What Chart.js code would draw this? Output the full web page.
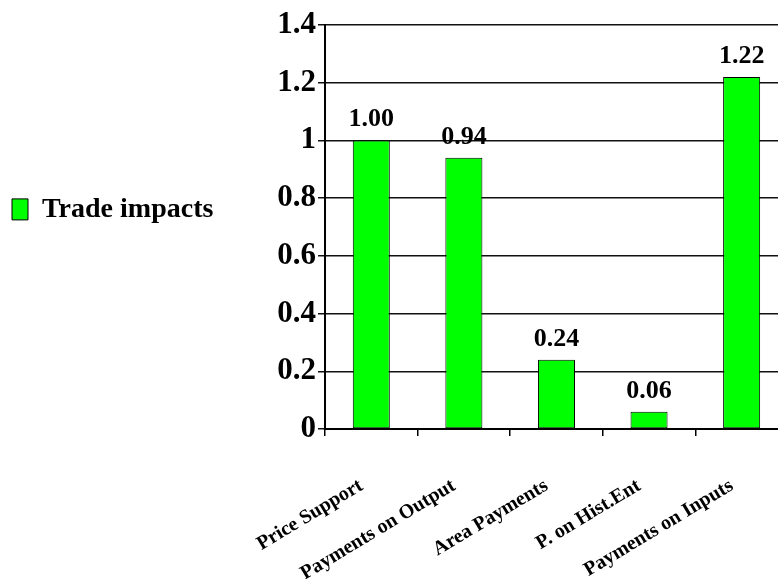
<!DOCTYPE html>
<html><head><meta charset="utf-8">
<script src="https://cdn.jsdelivr.net/npm/chart.js@4/dist/chart.umd.min.js"></script>
<style>
html,body{margin:0;padding:0;background:#fff;overflow:hidden;width:778px;height:579px;}
#wrap{position:relative;width:792px;height:579px;}
</style></head>
<body><div id="wrap"><canvas id="c"></canvas></div>
<script>
const categories = ["Price Support", "Payments on Output", "Area Payments", "P. on Hist.Ent", "Payments on Inputs"];
const tradeImpacts = [1.00, 0.94, 0.24, 0.06, 1.22];
const seriesName = "Trade impacts";
const yTickLabels = ["0", "0.2", "0.4", "0.6", "0.8", "1", "1.2", "1.4"];

const FONT = '"Liberation Serif", "Times New Roman", serif';

const valueLabels = {
  id: 'valueLabels',
  afterDatasetsDraw(chart) {
    const ctx = chart.ctx;
    const meta = chart.getDatasetMeta(0);
    ctx.save();
    ctx.font = 'bold 26px ' + FONT;
    ctx.fillStyle = '#000';
    ctx.textAlign = 'center';
    ctx.textBaseline = 'alphabetic';
    meta.data.forEach((bar, i) => {
      ctx.fillText(tradeImpacts[i].toFixed(2), bar.x, bar.y - 14);
    });
    ctx.restore();
  }
};

// widen the legend's clip box after layout so the full label is visible
const legendRoom = {
  id: 'legendRoom',
  afterLayout(chart) {
    const lg = chart.legend;
    if (lg) { lg.right = lg.left + 260; lg.width = 260; }
  }
};

new Chart(document.getElementById('c'), {
  type: 'bar',
  data: {
    labels: categories,
    datasets: [{
      label: seriesName,
      data: tradeImpacts,
      backgroundColor: '#00ff00',
      borderColor: '#000',
      borderWidth: 1,
      borderSkipped: false,
      categoryPercentage: 0.8,
      barPercentage: 0.5
    }]
  },
  options: {
    responsive: true,
    maintainAspectRatio: false,
    animation: false,
    layout: { padding: { top: 25, left: 0, right: 0, bottom: 0 } },
    plugins: {
      tooltip: { enabled: false },
      legend: {
        position: 'left',
        fullSize: true,
        align: 'start',
        title: { display: true, text: '', font: { size: 12 }, padding: { top: 144, bottom: 0 } },
        labels: {
          color: '#000',
          font: { family: FONT, size: 28, weight: 'bold' },
          boxWidth: 16,
          boxHeight: 21,
          padding: 12
        }
      }
    },
    scales: {
      x: {
        grid: { display: true, drawOnChartArea: false, offset: true, color: '#000', lineWidth: 1.5, tickLength: 7 },
        border: { display: true, color: '#000', width: 2 },
        ticks: {
          color: '#000',
          font: { family: FONT, size: 20, weight: 'bold' },
          minRotation: 31, maxRotation: 31,
          padding: 38,
          labelOffset: -10,
          autoSkip: false
        },
        afterFit(scale) { scale.height = 150; }
      },
      y: {
        min: 0, max: 1.4,
        grid: { color: '#111', lineWidth: 1.5, tickLength: 7 },
        border: { display: true, color: '#000', width: 2 },
        ticks: {
          stepSize: 0.2,
          color: '#000',
          padding: 2,
          font: { family: FONT, size: 31, weight: 'bold' },
          callback: (v, i) => yTickLabels[i]
        },
        afterFit(scale) {
          const lg = scale.chart.legend;
          scale.width = 325 - (lg ? lg.width : 0);
        }
      }
    }
  },
  plugins: [valueLabels, legendRoom]
});
</script></body></html>
